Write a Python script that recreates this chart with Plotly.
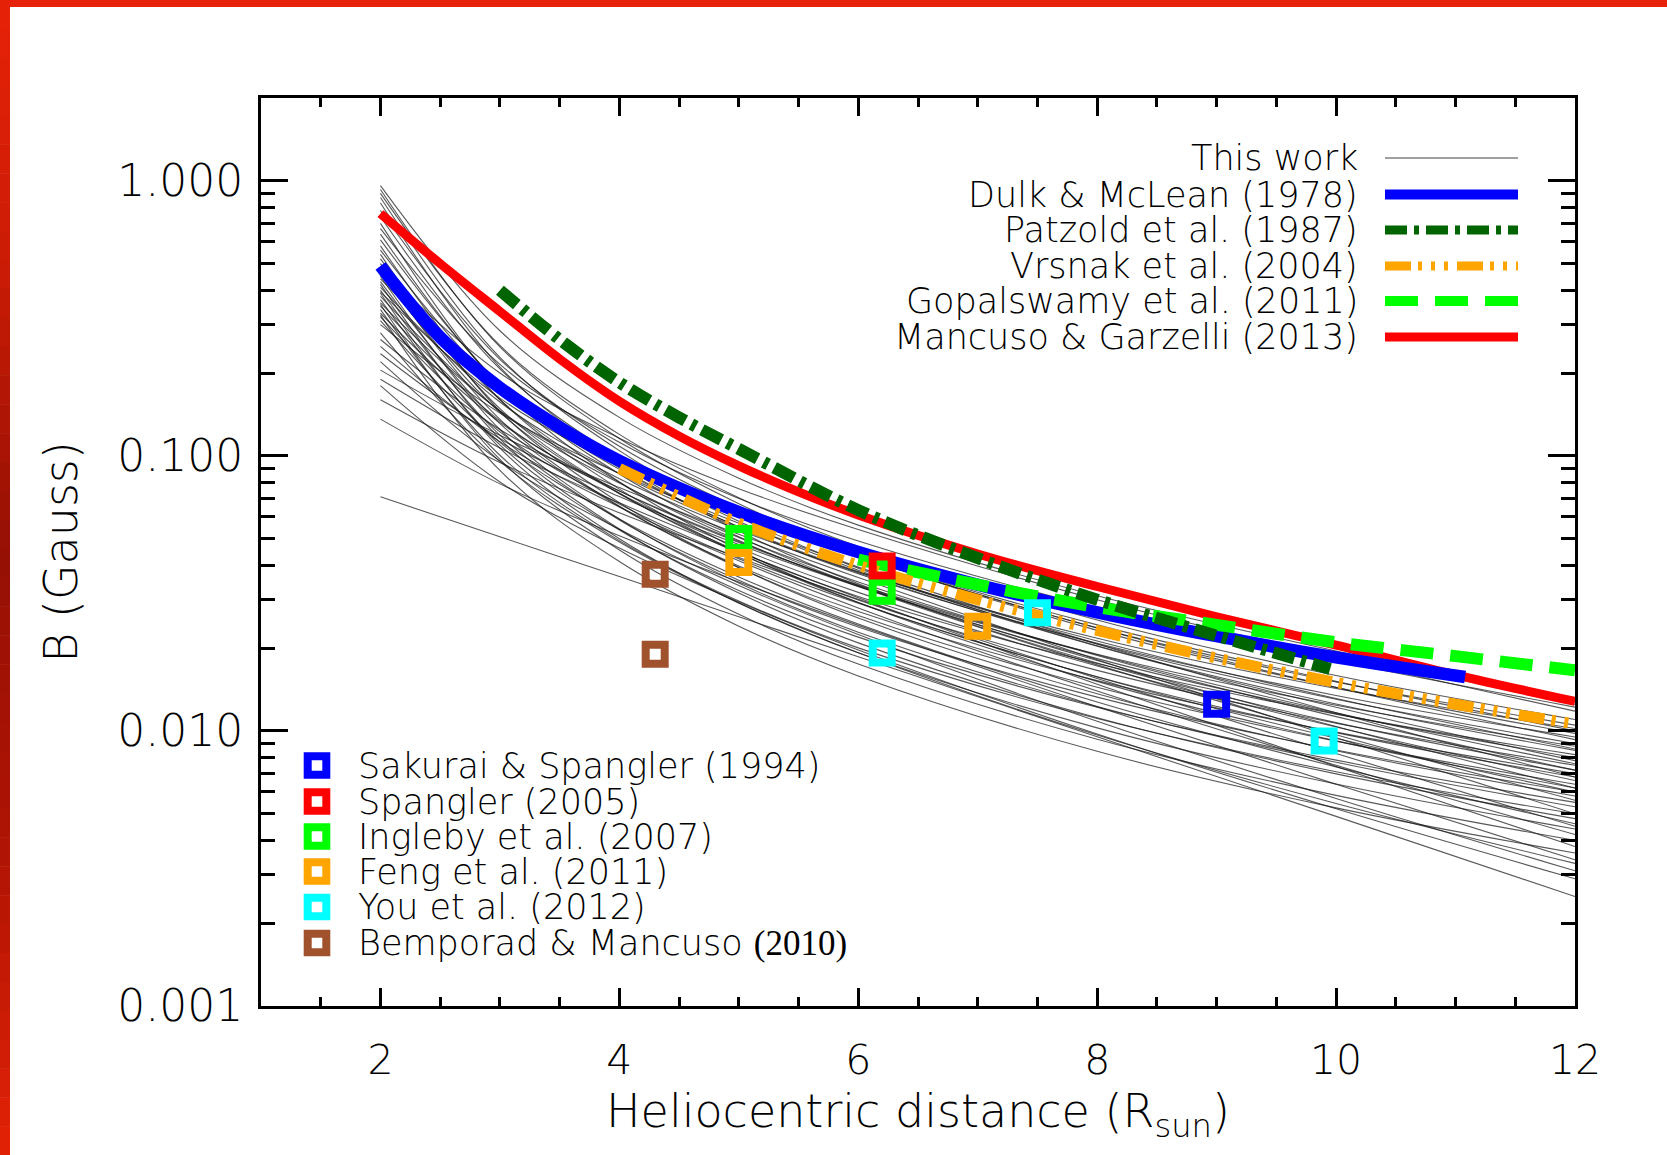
import plotly.graph_objects as go

# ---------------- data ----------------
R_GRID = [2, 3, 4, 5, 6, 8, 10, 12]
THIS_WORK = [
    [0.96, 0.285, 0.138, 0.083, 0.056, 0.031, 0.0195, 0.0125],
    [0.93, 0.249, 0.1156, 0.0670, 0.0438, 0.0232, 0.0144, 0.0098],
    [0.90, 0.252, 0.1197, 0.0705, 0.0468, 0.0253, 0.0159, 0.0110],
    [0.87, 0.228, 0.1045, 0.0600, 0.0390, 0.0204, 0.01253, 0.0085],
    [0.83, 0.2104, 0.0944, 0.0533, 0.0343, 0.01766, 0.01072, 0.0072],
    [0.78, 0.2244, 0.1084, 0.0647, 0.0434, 0.0237, 0.01507, 0.0105],
    [0.74, 0.207, 0.0982, 0.0578, 0.0384, 0.0207, 0.01303, 0.0090],
    [0.70, 0.1786, 0.0804, 0.0455, 0.0293, 0.01514, 0.0092, 0.0062],
    [0.67, 0.215, 0.112, 0.070, 0.0490, 0.0280, 0.0180, 0.0122],
    [0.64, 0.1803, 0.0859, 0.0508, 0.0338, 0.01832, 0.01156, 0.0080],
    [0.61, 0.1832, 0.0906, 0.0550, 0.0373, 0.02084, 0.01346, 0.0095],
    [0.58, 0.1603, 0.0757, 0.0444, 0.0293, 0.01574, 0.00986, 0.0068],
    [0.56, 0.1758, 0.0893, 0.0552, 0.0380, 0.02173, 0.01426, 0.0102],
    [0.54, 0.1455, 0.0676, 0.0393, 0.02576, 0.01365, 0.00847, 0.0058],
    [0.52, 0.160, 0.0802, 0.0492, 0.03365, 0.0190, 0.01239, 0.0088],
    [0.50, 0.1486, 0.0731, 0.0442, 0.0299, 0.0166, 0.01067, 0.0075],
    [0.48, 0.200, 0.116, 0.076, 0.054, 0.030, 0.0185, 0.0118],
    [0.47, 0.1358, 0.0656, 0.0392, 0.0263, 0.01442, 0.00918, 0.0064],
    [0.46, 0.1439, 0.0728, 0.0449, 0.0308, 0.01758, 0.01151, 0.0082],
    [0.45, 0.1247, 0.0589, 0.0345, 0.02286, 0.01227, 0.00769, 0.0053],
    [0.44, 0.173, 0.0962, 0.0618, 0.0430, 0.02366, 0.01439, 0.0093],
    [0.43, 0.1309, 0.0653, 0.0398, 0.0272, 0.01524, 0.0099, 0.0070],
    [0.42, 0.1153, 0.0542, 0.0317, 0.0209, 0.01117, 0.00698, 0.0048],
    [0.41, 0.157, 0.0861, 0.0546, 0.0376, 0.02032, 0.01219, 0.0078],
    [0.40, 0.1189, 0.0585, 0.0353, 0.02388, 0.01327, 0.00853, 0.0060],
    [0.395, 0.1622, 0.0927, 0.0608, 0.0431, 0.0243, 0.01514, 0.0100],
    [0.39, 0.1067, 0.0500, 0.0292, 0.01923, 0.01026, 0.00641, 0.0044],
    [0.38, 0.1455, 0.0796, 0.0505, 0.0348, 0.01879, 0.01127, 0.0072],
    [0.37, 0.1096, 0.0538, 0.0324, 0.02193, 0.01219, 0.00783, 0.0055],
    [0.36, 0.1459, 0.0826, 0.0538, 0.0378, 0.02123, 0.01312, 0.0086],
    [0.355, 0.0971, 0.0455, 0.02655, 0.0175, 0.00933, 0.00583, 0.0040],
    [0.35, 0.134, 0.0731, 0.0463, 0.0319, 0.01722, 0.01033, 0.0066],
    [0.34, 0.1005, 0.0492, 0.02965, 0.02004, 0.01109, 0.00711, 0.0050],
    [0.33, 0.1324, 0.0746, 0.0484, 0.03396, 0.01892, 0.01164, 0.0076],
    [0.325, 0.0885, 0.0413, 0.02404, 0.01585, 0.00843, 0.00525, 0.0036],
    [0.32, 0.1222, 0.0668, 0.0423, 0.0291, 0.0157, 0.0094, 0.0060],
    [0.31, 0.1119, 0.059, 0.0363, 0.02449, 0.01274, 0.0074, 0.0046],
    [0.30, 0.1432, 0.0863, 0.0569, 0.0394, 0.0207, 0.01164, 0.0068],
    [0.28, 0.0955, 0.0486, 0.0292, 0.01923, 0.00966, 0.00545, 0.0033],
    [0.265, 0.1247, 0.0745, 0.0488, 0.0335, 0.01738, 0.00968, 0.0056],
    [0.25, 0.1127, 0.0652, 0.0416, 0.0280, 0.01396, 0.0075, 0.0042],
    [0.235, 0.1156, 0.0711, 0.0476, 0.0335, 0.01803, 0.01038, 0.0062],
    [0.22, 0.0957, 0.0541, 0.0338, 0.0224, 0.01084, 0.00568, 0.0031],
    [0.205, 0.1189, 0.0767, 0.0519, 0.0361, 0.01816, 0.00944, 0.0050],
    [0.19, 0.1069, 0.0675, 0.0447, 0.0305, 0.01479, 0.00743, 0.0038],
    [0.18, 0.0804, 0.0462, 0.0294, 0.01968, 0.00975, 0.00521, 0.0029],
    [0.16, 0.0946, 0.0621, 0.0427, 0.0301, 0.01552, 0.00828, 0.0045],
    [0.136, 0.0791, 0.0512, 0.0348, 0.0242, 0.01225, 0.0064, 0.0034],
    [0.071, 0.0508, 0.0364, 0.026, 0.0186, 0.00953, 0.00489, 0.0025],
]

MANCUSO_R = [2, 2.5, 3, 3.5, 4, 4.5, 5, 5.5, 6, 7, 8, 9, 10, 11, 12]
MANCUSO_B = [0.76, 0.50, 0.335, 0.225, 0.158, 0.118, 0.092, 0.074, 0.061, 0.044, 0.0335,
             0.026, 0.0205, 0.016, 0.0128]

DULK_R = [2.0, 2.5, 3.0, 3.5, 4.0, 5.0, 6.0, 7.0, 8.0, 9.0, 10.0, 11.08]
DULK_B = [0.49, 0.27, 0.177, 0.127, 0.096, 0.0625, 0.0447, 0.034, 0.027, 0.0221, 0.0185, 0.0157]

GOPAL_R = [6, 7, 8, 9, 10, 11, 12]
GOPAL_B = [0.042, 0.034, 0.0282, 0.0243, 0.0210, 0.0187, 0.0166]

VRSNAK_R = [4, 5, 6, 7, 8, 9, 10, 11, 12]
VRSNAK_B = [0.090, 0.057, 0.040, 0.030, 0.0232, 0.0184, 0.0150, 0.0125, 0.0106]

PATZOLD_R = [3.0, 3.5, 4.0, 4.5, 5.0, 6.0, 7.0, 8.0, 9.0, 9.95]
PATZOLD_B = [0.40, 0.265, 0.185, 0.138, 0.106, 0.0635, 0.0425, 0.0300, 0.0222, 0.0168]

SAKURAI_R, SAKURAI_B = [9.0], [0.0125]
SPANGLER_R, SPANGLER_B = [6.2], [0.0398]
INGLEBY_R, INGLEBY_B = [5.0, 6.2], [0.0501, 0.0322]
FENG_R, FENG_B = [5.0, 7.0], [0.041, 0.024]
YOU_R, YOU_B = [6.2, 7.5, 9.9], [0.0192, 0.0269, 0.0092]
BEMPORAD_R, BEMPORAD_B = [4.3, 4.3], [0.0371, 0.019]

LINE_LABELS = ["This work", "Dulk &amp; McLean (1978)", "Patzold et al. (1987)",
               "Vrsnak et al. (2004)", "Gopalswamy et al. (2011)", "Mancuso &amp; Garzelli (2013)"]
MARKER_LABELS = ["Sakurai &amp; Spangler (1994)", "Spangler (2005)", "Ingleby et al. (2007)",
                 "Feng et al. (2011)", "You et al. (2012)",
                 "Bemporad &amp; Mancuso <span style='font-family:Liberation Serif'>(2010)</span>"]

X_TICKS = [2, 4, 6, 8, 10, 12]
Y_TICKS = [0.001, 0.01, 0.1, 1.0]
Y_TICK_TEXT = ["0.001", "0.010", "0.100", "1.000"]

# ---------------- styles ----------------
FONT = "DejaVu Sans"
FW = 300
C_BLUE, C_RED, C_DKGREEN = "#0000FF", "#FF0000", "#006400"
C_ORANGE, C_GREEN, C_CYAN, C_BROWN = "#FFA500", "#00FF00", "#00FFFF", "#A0522D"
DASH_PATZOLD = "22px,7px,5px,7px"
DASH_VRSNAK = "26px,7px,4px,9px,4px,9px,4px,9px"
DASH_GOPAL = "33px,17px"

W, H = 1667, 1155
PL, PR, PT, PB = 261, 1575, 98, 1006


def px(x):
    return (x - PL) / (PR - PL)


def py(y):
    return (PB - y) / (PB - PT)


fig = go.Figure()

for row in THIS_WORK:
    fig.add_trace(go.Scatter(x=R_GRID, y=row, mode="lines", showlegend=False, hoverinfo="skip",
                             line=dict(color="rgba(25,25,25,0.72)", width=1.1, shape="spline")))

fig.add_trace(go.Scatter(x=MANCUSO_R, y=MANCUSO_B, mode="lines", name="Mancuso & Garzelli (2013)",
                         showlegend=False, line=dict(color=C_RED, width=9, shape="spline")))
fig.add_trace(go.Scatter(x=DULK_R, y=DULK_B, mode="lines", name="Dulk & McLean (1978)",
                         showlegend=False, line=dict(color=C_BLUE, width=12.5, shape="spline")))
fig.add_trace(go.Scatter(x=GOPAL_R, y=GOPAL_B, mode="lines", name="Gopalswamy et al. (2011)",
                         showlegend=False, line=dict(color=C_GREEN, width=12, dash=DASH_GOPAL, shape="spline")))
fig.add_trace(go.Scatter(x=VRSNAK_R, y=VRSNAK_B, mode="lines", name="Vrsnak et al. (2004)",
                         showlegend=False, line=dict(color=C_ORANGE, width=11, dash=DASH_VRSNAK, shape="spline")))
fig.add_trace(go.Scatter(x=PATZOLD_R, y=PATZOLD_B, mode="lines", name="Patzold et al. (1987)",
                         showlegend=False, line=dict(color=C_DKGREEN, width=12, dash=DASH_PATZOLD, shape="spline")))

for xs, ys, c, nm in [(INGLEBY_R, INGLEBY_B, C_GREEN, "Ingleby et al. (2007)"),
                      (FENG_R, FENG_B, C_ORANGE, "Feng et al. (2011)"),
                      (SPANGLER_R, SPANGLER_B, C_RED, "Spangler (2005)"),
                      (YOU_R, YOU_B, C_CYAN, "You et al. (2012)"),
                      (SAKURAI_R, SAKURAI_B, C_BLUE, "Sakurai & Spangler (1994)"),
                      (BEMPORAD_R, BEMPORAD_B, C_BROWN, "Bemporad & Mancuso (2010)")]:
    fig.add_trace(go.Scatter(x=xs, y=ys, mode="markers", name=nm, showlegend=False,
                             marker=dict(symbol="square-open", size=19, color=c,
                                         line=dict(width=8, color=c))))

shapes = []
annotations = []

# legend 1 (lines, text on the left)
leg1_y = [158, 194.5, 230, 266, 301, 337]
leg1_style = [("#808080", 1.5, "solid"), (C_BLUE, 10, "solid"), (C_DKGREEN, 9, DASH_PATZOLD),
              (C_ORANGE, 9, DASH_VRSNAK), (C_GREEN, 10, DASH_GOPAL), (C_RED, 9, "solid")]
for yy, lab, (c, w, d) in zip(leg1_y, LINE_LABELS, leg1_style):
    annotations.append(dict(x=px(1360), y=py(yy), xref="paper", yref="paper", text=lab,
                            showarrow=False, xanchor="right", yanchor="middle",
                            font=dict(family=FONT, size=35, color="black", weight=FW)))
    shapes.append(dict(type="line", xref="paper", yref="paper", x0=px(1385), x1=px(1518),
                       y0=py(yy), y1=py(yy), line=dict(color=c, width=w, dash=d)))

# legend 2 (markers)
leg2_y = [765.5, 801.5, 836.5, 871.5, 907, 943]
leg2_col = [C_BLUE, C_RED, C_GREEN, C_ORANGE, C_CYAN, C_BROWN]
for yy, lab, c in zip(leg2_y, MARKER_LABELS, leg2_col):
    shapes.append(dict(type="rect", xref="paper", yref="paper",
                       x0=px(317 - 9.3), x1=px(317 + 9.3), y0=py(yy + 9.3), y1=py(yy - 9.3),
                       line=dict(color=c, width=8), fillcolor="rgba(0,0,0,0)"))
    annotations.append(dict(x=px(356), y=py(yy), xref="paper", yref="paper", text=lab,
                            showarrow=False, xanchor="left", yanchor="middle",
                            font=dict(family=FONT, size=35, color="black", weight=FW)))

# red frame edges
shapes.append(dict(type="rect", xref="paper", yref="paper", x0=px(0), x1=px(W), y0=py(0), y1=py(7),
                   fillcolor="#E62208", line=dict(width=0), layer="above"))
stops = [(0, (230, 34, 8)), (250, (205, 28, 6)), (550, (150, 16, 4)), (850, (175, 20, 4)), (1155, (226, 34, 6))]
nseg = 40
for i in range(nseg):
    y0 = H * i / nseg
    y1 = H * (i + 1) / nseg
    ym = (y0 + y1) / 2
    for (a, ca), (b, cb) in zip(stops[:-1], stops[1:]):
        if a <= ym <= b:
            t = (ym - a) / (b - a)
            col = tuple(int(round(ca[k] + (cb[k] - ca[k]) * t)) for k in range(3))
            break
    shapes.append(dict(type="rect", xref="paper", yref="paper", x0=px(0), x1=px(10),
                       y0=py(y0), y1=py(y1 + 0.5), fillcolor="rgb(%d,%d,%d)" % col,
                       line=dict(width=0), layer="above"))

fig.update_layout(
    width=W, height=H,
    margin=dict(l=PL, r=W - PR, t=PT, b=H - PB),
    paper_bgcolor="white", plot_bgcolor="white",
    showlegend=False,
    font=dict(family=FONT, color="black", weight=FW),
    shapes=shapes, annotations=annotations,
)

fig.update_xaxes(
    range=[1, 12], tickvals=X_TICKS, ticks="inside", ticklen=18, tickwidth=2.5, tickcolor="black",
    minor=dict(ticks="inside", dtick=0.5, tick0=0, ticklen=9, tickwidth=2.5, tickcolor="black", showgrid=False),
    showline=True, linewidth=3, linecolor="black", mirror="allticks", showgrid=False, zeroline=False,
    tickfont=dict(family=FONT, size=41, weight=FW), ticklabelstandoff=16,
    title=dict(text="Heliocentric distance (R<sub>sun</sub>)", font=dict(family=FONT, size=46, weight=FW),
               standoff=12),
)
minor_y = [m * 10.0 ** e for e in (-3, -2, -1, 0) for m in range(2, 10) if m * 10.0 ** e <= 2.0]
fig.update_yaxes(
    type="log", range=[-3, 0.30103], tickvals=Y_TICKS, ticktext=Y_TICK_TEXT,
    ticks="inside", ticklen=27, tickwidth=2.5, tickcolor="black",
    minor=dict(ticks="inside", tickvals=minor_y, ticklen=14, tickwidth=2.5, tickcolor="black", showgrid=False),
    showline=True, linewidth=3, linecolor="black", mirror="allticks", showgrid=False, zeroline=False,
    tickfont=dict(family=FONT, size=44, weight=FW), ticklabelstandoff=6,
    title=dict(text="B (Gauss)", font=dict(family=FONT, size=46, weight=FW), standoff=26),
)

fig.write_html("out.html")
